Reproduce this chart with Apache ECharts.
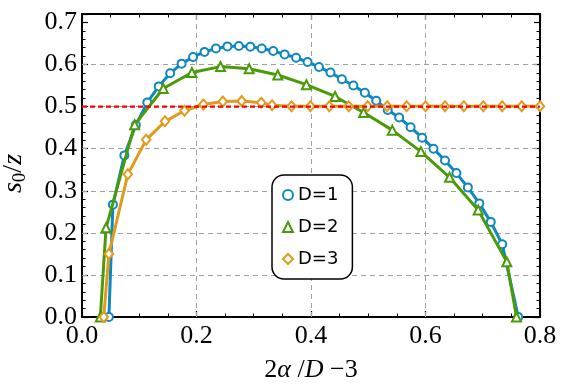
<!DOCTYPE html>
<html><head><meta charset="utf-8">
<script src="https://cdn.jsdelivr.net/npm/echarts@6/dist/echarts.min.js"></script>
<style>html,body{margin:0;padding:0;background:#fff}#c{width:561px;height:385px}</style>
</head><body><div id="c"></div>
<script>
// ---- data ----
const seriesNames = ['D=1', 'D=2', 'D=3'];
const d1X = [0.047, 0.054, 0.074, 0.094, 0.114, 0.134, 0.154, 0.174, 0.194, 0.214, 0.234, 0.254, 0.274, 0.294, 0.314, 0.334, 0.354, 0.374, 0.394, 0.414, 0.434, 0.454, 0.474, 0.494, 0.514, 0.534, 0.554, 0.574, 0.594, 0.614, 0.634, 0.654, 0.674, 0.694, 0.714, 0.734, 0.762];
const d1Y = [0.0, 0.267, 0.384, 0.456, 0.510, 0.548, 0.579, 0.602, 0.618, 0.630, 0.638, 0.643, 0.644, 0.642, 0.638, 0.632, 0.624, 0.616, 0.606, 0.594, 0.581, 0.565, 0.550, 0.533, 0.514, 0.492, 0.474, 0.451, 0.426, 0.400, 0.372, 0.342, 0.308, 0.270, 0.226, 0.173, 0.0];
const d2X = [0.032, 0.042, 0.092, 0.142, 0.192, 0.242, 0.292, 0.342, 0.392, 0.442, 0.492, 0.542, 0.592, 0.642, 0.692, 0.742, 0.759];
const d2Y = [0.0, 0.212, 0.457, 0.543, 0.581, 0.595, 0.590, 0.575, 0.552, 0.524, 0.486, 0.444, 0.393, 0.332, 0.254, 0.131, 0.0];
const d3X = [0.038, 0.047, 0.080, 0.112, 0.145, 0.179, 0.212, 0.246, 0.279, 0.313, 0.332, 0.366, 0.399, 0.432, 0.466, 0.499, 0.533, 0.567, 0.600, 0.634, 0.667, 0.701, 0.734, 0.768, 0.800];
const d3Y = [0.0, 0.150, 0.339, 0.421, 0.465, 0.490, 0.505, 0.512, 0.513, 0.509, 0.503, 0.501, 0.501, 0.501, 0.501, 0.501, 0.501, 0.501, 0.501, 0.501, 0.501, 0.501, 0.501, 0.501, 0.501];
const thresholdX = [0, 0.8];
const thresholdY = [0.5, 0.5];
const gridLinesX = [0.2, 0.4, 0.6];
const gridLinesY = [0.1, 0.2, 0.3, 0.4, 0.5, 0.6];
const xTickLabels = ['0.0', '0.2', '0.4', '0.6', '0.8'];
const yTickLabels = ['0.0', '0.1', '0.2', '0.3', '0.4', '0.5', '0.6', '0.7'];

// ---- styling ----
const colors = ['#0f87bf', '#4a9a0a', '#e09b1e'];
const symbols = ['emptyCircle', 'emptyTriangle', 'emptyDiamond'];
const symbolSizes = [8, 9, [8.5, 10]];
const serif = 'Liberation Serif';

const pairs = (xs, ys) => xs.map((x, i) => [x, ys[i]]);
const dataSets = [pairs(d1X, d1Y), pairs(d2X, d2Y), pairs(d3X, d3Y)];

function labelFor(list, v) {
  const s = v.toFixed(1);
  return (Math.abs(v * 10 - Math.round(v * 10)) < 1e-6 && list.indexOf(s) >= 0) ? s : '';
}

const black = '#000';
function xAx(pos, withLabels) {
  const ax = {
    type: 'value', min: 0, max: 0.8, interval: 0.2, position: pos,
    axisLine: { show: true, onZero: false, lineStyle: { color: black, width: 2 } },
    axisTick: { show: true, inside: true, length: 6, lineStyle: { color: black, width: 1.2 } },
    minorTick: { show: true, splitNumber: 4, length: 3.5, lineStyle: { color: black, width: 1 } },
    splitLine: { show: false },
    axisLabel: { show: withLabels, margin: 6, color: black, fontFamily: serif, fontSize: 26,
      formatter: v => labelFor(xTickLabels, v) }
  };
  if (withLabels) {
    ax.name = '{n|2}{i|\u03b1}{n| /}{i|D}{n| \u22123}';
    ax.nameLocation = 'middle';
    ax.nameGap = 40;
    ax.nameTextStyle = { rich: {
      n: { fontFamily: serif, fontSize: 26, color: black },
      i: { fontFamily: serif, fontSize: 26, fontStyle: 'italic', color: black }
    } };
  }
  return ax;
}
function yAx(pos, major, withLabels) {
  const ax = {
    type: 'value', min: 0, max: 0.72, interval: major ? 0.1 : 0.02, position: pos,
    axisLine: { show: major, onZero: false, lineStyle: { color: black, width: 2 } },
    axisTick: { show: true, inside: true, length: major ? 6 : 3.5, lineStyle: { color: black, width: major ? 1.2 : 1 } },
    splitLine: { show: false },
    axisLabel: { show: withLabels, margin: 5, color: black, fontFamily: serif, fontSize: 26,
      formatter: v => labelFor(yTickLabels, v) }
  };
  if (withLabels) {
    ax.name = '{i|s}{sub|0}{n|/}{i|z}';
    ax.nameLocation = 'middle';
    ax.nameRotate = 90;
    ax.nameGap = 52;
    ax.nameTextStyle = { padding: [0, 16, 0, 0], rich: {
      n: { fontFamily: serif, fontSize: 28, color: black, lineHeight: 32 },
      i: { fontFamily: serif, fontSize: 28, fontStyle: 'italic', color: black, lineHeight: 32 },
      sub: { fontFamily: serif, fontSize: 19, color: black, verticalAlign: 'bottom', lineHeight: 32 }
    } };
  }
  return ax;
}

const series = [];
// gridlines (dashed gray) via markLine on an empty series, kept below the data
series.push({
  type: 'line', data: [], silent: true, z: 1,
  markLine: {
    silent: true, symbol: ['none', 'none'], animation: false, z: 1,
    label: { show: false },
    lineStyle: { color: '#a0a0a0', type: [5, 4], width: 1 },
    emphasis: { disabled: true },
    data: gridLinesX.map(v => ({ xAxis: v })).concat(gridLinesY.map(v => ({ yAxis: v })))
  }
});
seriesNames.forEach((name, i) => {
  series.push({
    name, type: 'line', data: dataSets[i], z: 3 + i,
    symbol: symbols[i], symbolSize: symbolSizes[i], showAllSymbol: true,
    lineStyle: { color: colors[i], width: 3 },
    itemStyle: { color: colors[i], borderColor: colors[i], borderWidth: 1.6 },
    emphasis: { disabled: true }, clip: true
  });
});
series.push({
  name: 'threshold', type: 'line', data: pairs(thresholdX, thresholdY), z: 10,
  symbol: 'none', lineStyle: { color: '#ff0000', width: 2.2, type: [5, 3] }, silent: true
});

const chart = echarts.init(document.getElementById('c'), null, { renderer: 'canvas' });
chart.setOption({
  animation: false,
  backgroundColor: '#fff',
  grid: { left: 82, right: 21, top: 14, bottom: 68, containLabel: false, outerBoundsMode: 'none' },
  xAxis: [xAx('bottom', true), xAx('top', false)],
  yAxis: [yAx('left', true, true), yAx('left', false, false), yAx('right', true, false), yAx('right', false, false)],
  legend: {
    data: seriesNames.map((n, i) => ({ name: n, icon: symbols[i] })),
    orient: 'vertical', left: 272, top: 175,
    padding: [10, 14, 10, 10], itemGap: 12, itemWidth: 10, itemHeight: 10,
    backgroundColor: '#fff', borderColor: black, borderWidth: 1.5, borderRadius: 12,
    textStyle: { fontFamily: 'DejaVu Sans', fontSize: 18, color: black, lineHeight: 20 },
    selectedMode: false, z: 20
  },
  series
});
</script></body></html>
